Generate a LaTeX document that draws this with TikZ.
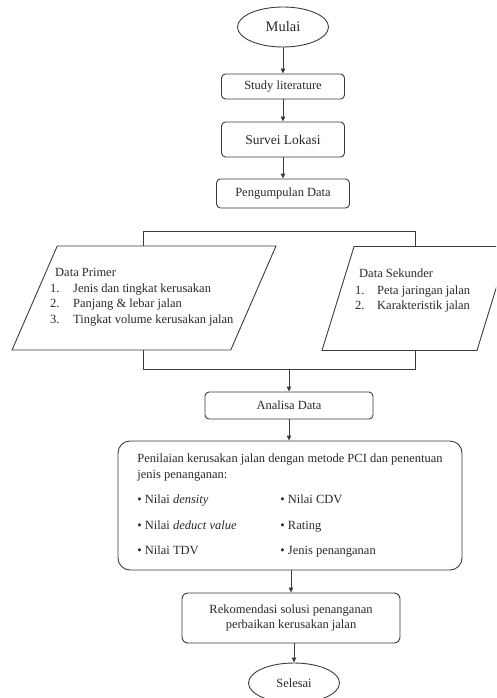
\documentclass[tikz,border=0pt]{standalone}
\usepackage{fontspec}
\setmainfont{Liberation Serif}
\usepackage{tikz}
\usetikzlibrary{shapes.geometric,arrows.meta,positioning,calc}
\usepackage{xcolor}
\definecolor{garis}{RGB}{60,60,60}
\definecolor{teks}{RGB}{40,40,40}

\begin{document}
\begin{tikzpicture}[x=1pt, y=-1pt,
    box/.style={rectangle, draw=garis, line width=0.9pt, rounded corners=4pt, inner sep=2pt, text=teks, font=\fontsize{12.5}{15}\selectfont},
    terminal/.style={ellipse, draw=garis, line width=0.9pt, minimum width=91pt, minimum height=40pt, inner sep=0pt, text=teks, font=\fontsize{12.5}{15}\selectfont},
    data/.style={trapezium, trapezium left angle=75.4, trapezium right angle=104.6, trapezium stretches=true, draw=garis, line width=0.9pt, minimum height=104pt},
    list/.style={anchor=north west, inner sep=0pt, text=teks, font=\fontsize{12.5}{15.5}\selectfont},
    line/.style={draw=garis, line width=0.9pt},
    arr/.style={-{Triangle[length=5pt, width=4.5pt]}, draw=garis, line width=0.9pt}
]
    \useasboundingbox (0,0) rectangle (496,698);
    \clip (0,0) rectangle (496,698);

    % Awal
    \node[terminal, font=\fontsize{14.5}{17}\selectfont] (mulai) at (283,27) {Mulai};
    \node[box, minimum width=123pt, minimum height=25pt] (studi) at (283,86.5) {Study literature};
    \node[box, minimum width=123pt, minimum height=35pt, font=\fontsize{13.5}{16}\selectfont] (survei) at (283,139.5) {Survei Lokasi};
    \node[box, minimum width=133pt, minimum height=29pt] (kumpul) at (283,193.5) {Pengumpulan Data};

    \draw[arr] (mulai) -- (studi);
    \draw[arr] (studi) -- (survei);
    \draw[arr] (survei) -- (kumpul);

    % Data primer dan sekunder
    \node[data, minimum width=264pt] (primer) at (144,298) {};
    \node[data, minimum width=187pt] (sekunder) at (415.5,298.5) {};
    \node[list] (primerisi) at (50,265.5) {\begin{tabular}{@{}p{23pt}@{}l@{}}
        \multicolumn{2}{@{\hspace{5pt}}l@{}}{Data Primer}\\
        1. & Jenis dan tingkat kerusakan\\
        2. & Panjang \& lebar jalan\\
        3. & Tingkat volume kerusakan jalan
    \end{tabular}};
    \node[list] (sekunderisi) at (355,266.5) {\begin{tabular}{@{}p{22pt}@{}l@{}}
        \multicolumn{2}{@{\hspace{4pt}}l@{}}{Data Sekunder}\\[1pt]
        1. & Peta jaringan jalan\\
        2. & Karakteristik jalan
    \end{tabular}};

    \coordinate (atasKiri) at (143,231);
    \coordinate (atasKanan) at (415,231);
    \coordinate (bawahKiri) at (143,369);
    \coordinate (bawahKanan) at (415,369);
    \coordinate (gabung) at (289,369);
    \draw[line] (atasKiri |- primer.north) -- (atasKiri) -- (atasKanan) -- (atasKanan |- sekunder.north);
    \draw[line] (bawahKiri |- primer.south) -- (bawahKiri) -- (bawahKanan) -- (bawahKanan |- sekunder.south);

    % Analisa
    \node[box, minimum width=168pt, minimum height=27pt] (analisa) at (289,405.5) {Analisa Data};
    \node[box, rounded corners=12pt, minimum width=344pt, minimum height=129pt, font=\fontsize{12.5}{16}\selectfont] (nilai) at (290,505.5) {\begin{tabular}{@{}p{143pt}@{}l@{}}
        \multicolumn{2}{@{}l@{}}{Penilaian kerusakan jalan dengan metode PCI dan penentuan}\\
        \multicolumn{2}{@{}l@{}}{jenis penanganan:}\\[9pt]
        \textbullet\ Nilai \textit{density} & \textbullet\ Nilai CDV\\[10pt]
        \textbullet\ Nilai \textit{deduct value} & \textbullet\ Rating\\[9pt]
        \textbullet\ Nilai TDV & \textbullet\ Jenis penanganan
    \end{tabular}};
    \node[box, rounded corners=6pt, minimum width=218pt, minimum height=50pt, align=center] (rekom) at (291,618) {Rekomendasi solusi penanganan\\ perbaikan kerusakan jalan};
    \node[terminal] (selesai) at (294,683) {Selesai};

    \draw[arr] (gabung) -- (gabung |- analisa.north);
    \draw[arr] (analisa) -- (analisa |- nilai.north);
    \draw[arr] (nilai.south -| rekom) -- (rekom);
    \draw[arr] (rekom.south -| selesai) -- (selesai);
\end{tikzpicture}
\end{document}
